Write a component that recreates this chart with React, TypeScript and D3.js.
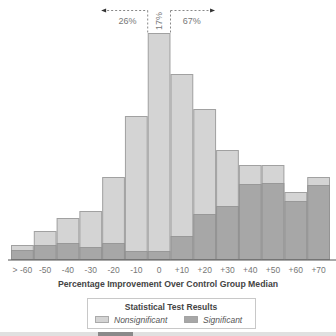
import React from "react";
import * as d3 from "d3";

const categories = ["> -60", "-50", "-40", "-30", "-20", "-10", "0", "+10", "+20", "+30", "+40", "+50", "+60", "+70"];
const totalValues = [14, 28, 41, 48, 82, 143, 226, 185, 150, 109, 94, 94, 67, 82];
const significantValues = [9, 14, 16, 12, 16, 8, 8, 23, 45, 53, 75, 76, 58, 74];
const shareLabels = ["26%", "17%", "67%"];
const legendLabels = ["Nonsignificant", "Significant"];

const W = 336;
const H = 336;
const FONT = "'Liberation Sans', Arial, sans-serif";
const LIGHT = "#d4d4d4";
const DARK = "#a7a7a7";
const STROKE = "#8e8e8e";

export default function App() {
  const x = d3.scaleBand<string>().domain(categories).range([11, 330]).padding(0);
  const baseY = 259.5;
  const y = d3.scaleLinear().domain([0, 226]).range([baseY, 33.5]);
  const bw = x.bandwidth();
  const zeroL = x("0")!;
  const zeroR = zeroL + bw;
  const lineY = 10.5;
  const leftEnd = x("-20")! + 1;
  const rightEnd = x("+30")! - 3;

  return (
    <svg width={W} height={H} style={{ position: "fixed", left: 0, top: 0, background: "#fff" }} fontFamily={FONT}>
      <rect width={W} height={H} fill="#fff" />
      {categories.map((c, i) => (
        <g key={c}>
          <rect x={x(c)! + 0.5} y={y(totalValues[i])} width={bw - 1} height={baseY - y(totalValues[i])}
            fill={LIGHT} stroke={STROKE} strokeWidth={1} strokeOpacity={0.8} />
          <rect x={x(c)! + 0.5} y={y(significantValues[i])} width={bw - 1} height={baseY - y(significantValues[i])}
            fill={DARK} stroke={STROKE} strokeWidth={1} strokeOpacity={0.8} />
          <text x={x(c)! + bw / 2} y={272.5} fontSize={8.5} fill="#777" textAnchor="middle">{c}</text>
        </g>
      ))}
      <line x1={8} x2={336} y1={baseY + 0.5} y2={baseY + 0.5} stroke="#555" strokeWidth={1} />

      {/* annotation */}
      <g stroke="#888" strokeWidth={1} strokeDasharray="2,2" fill="none">
        <line x1={leftEnd} x2={zeroL} y1={lineY} y2={lineY} />
        <line x1={zeroL} x2={zeroL} y1={lineY} y2={y(totalValues[6])} />
        <line x1={zeroR} x2={zeroR} y1={lineY} y2={y(totalValues[6])} />
        <line x1={zeroR} x2={rightEnd} y1={lineY} y2={lineY} />
      </g>
      <path d={`M${leftEnd - 2},${lineY} L${leftEnd + 3},${lineY - 2} L${leftEnd + 3},${lineY + 2} Z`} fill="#333" />
      <path d={`M${rightEnd + 2},${lineY} L${rightEnd - 3},${lineY - 2} L${rightEnd - 3},${lineY + 2} Z`} fill="#333" />
      <text x={(leftEnd + zeroL) / 2 + 2} y={23.5} fontSize={9} fill="#777" textAnchor="middle">{shareLabels[0]}</text>
      <text transform={`translate(${(zeroL + zeroR) / 2 + 3},${21}) rotate(-90)`} fontSize={9} fill="#777" textAnchor="middle">{shareLabels[1]}</text>
      <text x={(zeroR + rightEnd) / 2} y={23.5} fontSize={9} fill="#777" textAnchor="middle">{shareLabels[2]}</text>

      <text x={168} y={287} fontSize={8.7} fontWeight="bold" fill="#444" textAnchor="middle">
        Percentage Improvement Over Control Group Median
      </text>

      {/* legend */}
      <rect x={87.5} y={298.5} width={168} height={30} fill="#fff" stroke="#c8c8c8" />
      <text x={171} y={310} fontSize={8.5} fontWeight="bold" fill="#444" textAnchor="middle">Statistical Test Results</text>
      <rect x={95.5} y={316.5} width={13} height={6} fill={LIGHT} stroke={STROKE} strokeOpacity={0.7} />
      <text x={114} y={323} fontSize={8.5} fontStyle="italic" fill="#555">{legendLabels[0]}</text>
      <rect x={184.5} y={316.5} width={13} height={6} fill={DARK} stroke={STROKE} strokeOpacity={0.7} />
      <text x={203} y={323} fontSize={8.5} fontStyle="italic" fill="#555">{legendLabels[1]}</text>

      {/* bottom strip */}
      <rect x={0} y={332} width={336} height={4} fill="#e0e0e0" />
      <rect x={98} y={332} width={35} height={4} fill="#8a8a8a" />
    </svg>
  );
}
